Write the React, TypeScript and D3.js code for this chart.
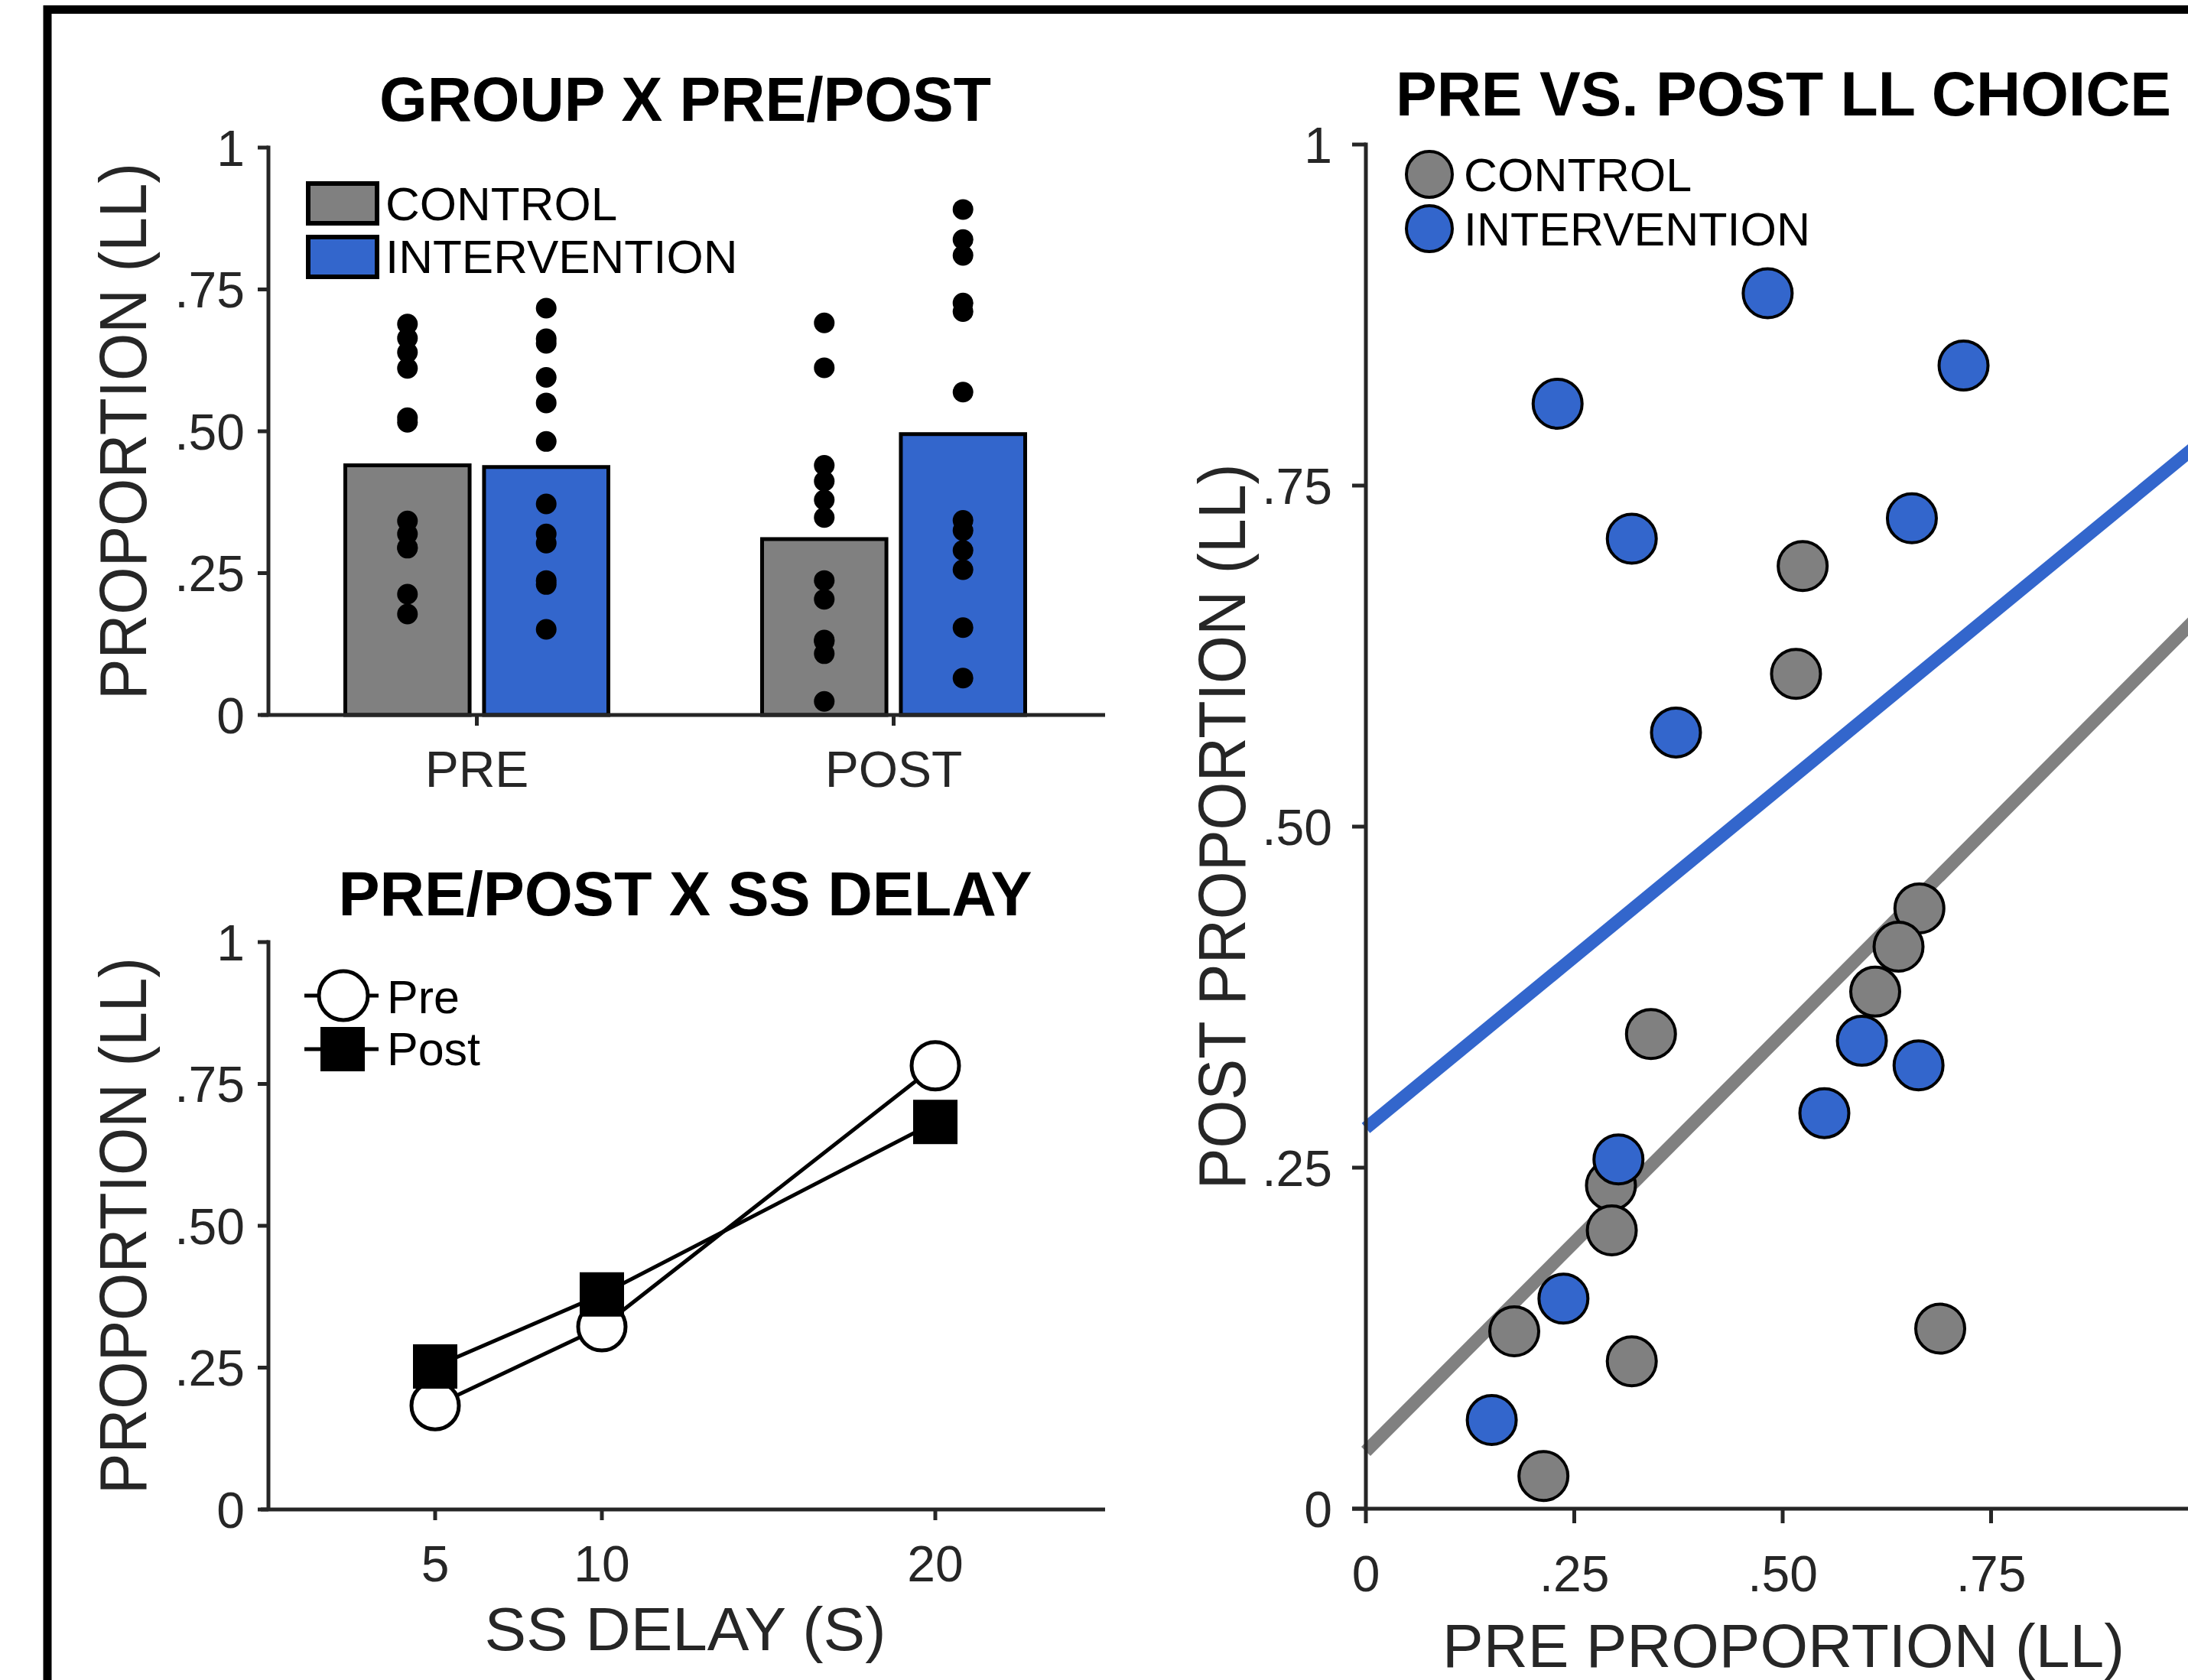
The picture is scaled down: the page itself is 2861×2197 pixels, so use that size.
import React from "react";
import * as d3 from "d3";

const W = 2861;
const H = 2197;
const FONT = "'Liberation Sans', Arial, Helvetica, sans-serif";
const AXIS = "#262626";
const GRAY = "#808080";
const BLUE = "#3366cc";

// panel A: group x pre/post
const phases = ["PRE", "POST"];
const groups = ["CONTROL", "INTERVENTION"];
const controlMeans = [0.44, 0.31]; // PRE, POST
const interventionMeans = [0.437, 0.495];

// per participant (same people in panel A dots and panel C scatter)
const controlPre = [0.524, 0.516, 0.664, 0.639, 0.611, 0.342, 0.294, 0.295, 0.178, 0.319, 0.689, 0.213];
const controlPost = [0.691, 0.612, 0.44, 0.412, 0.379, 0.348, 0.237, 0.204, 0.13, 0.108, 0.132, 0.024];
const interventionPre = [0.482, 0.23, 0.717, 0.319, 0.655, 0.372, 0.595, 0.663, 0.55, 0.303, 0.237, 0.151];
const interventionPost = [0.891, 0.81, 0.838, 0.711, 0.726, 0.569, 0.343, 0.325, 0.29, 0.256, 0.154, 0.065];

// panel B: pre/post x ss delay
const delays = [5, 10, 20];
const preByDelay = [0.183, 0.322, 0.782];
const postByDelay = [0.252, 0.379, 0.683];

// panel C: fitted lines, [pre, post] at both ends
const controlFit: [number, number][] = [[0, 0.042], [1, 0.655]];
const interventionFit: [number, number][] = [[0, 0.279], [1, 0.781]];

const propTicks = [0, 0.25, 0.5, 0.75, 1];
const propTickLabels = ["0", ".25", ".50", ".75", "1"];

// scales
const yA = d3.scaleLinear().domain([0, 1]).range([935, 193]);
const xA = d3.scalePoint().domain(phases).range([351, 1441]).padding(0.5);
const xA1 = d3.scaleBand().domain(groups).range([-172, 172]).paddingInner(0.104);

const yB = d3.scaleLinear().domain([0, 1]).range([1974, 1232]);
const xB = d3.scaleLinear().domain([0, 25]).range([351, 1441]);

const yC = d3.scaleLinear().domain([0, 1]).range([1973, 189]);
const xC = d3.scaleLinear().domain([0, 1]).range([1786, 2876]);

const YAxis = ({ scale, x, tickLen, gap }) => (
  <g>
    <line x1={x} x2={x} y1={scale(1) - 2.5} y2={scale(0)} stroke={AXIS} strokeWidth={5} />
    {propTicks.map((t, i) => (
      <g key={t}>
        <line x1={x - tickLen} x2={x} y1={scale(t)} y2={scale(t)} stroke={AXIS} strokeWidth={5} />
        <text
          x={x - tickLen - gap}
          y={scale(t)}
          dy="0.36em"
          textAnchor="end"
          fontSize={66}
          fill={AXIS}
        >
          {propTickLabels[i]}
        </text>
      </g>
    ))}
  </g>
);

const YLabel = ({ x, y, text, len }) => (
  <text
    transform={`translate(${x},${y}) rotate(-90)`}
    textAnchor="middle"
    fontSize={88}
    fill={AXIS}
    textLength={len}
    lengthAdjust="spacingAndGlyphs"
  >
    {text}
  </text>
);

const Title = ({ x, y, text, len }) => (
  <text
    x={x}
    y={y}
    textAnchor="middle"
    fontSize={81}
    fontWeight="bold"
    fill="#000"
    textLength={len}
    lengthAdjust="spacingAndGlyphs"
  >
    {text}
  </text>
);

const PanelA = () => {
  const means = [controlMeans, interventionMeans];
  const dots = [
    [controlPre, controlPost],
    [interventionPre, interventionPost],
  ];
  const fills = [GRAY, BLUE];
  const bw = xA1.bandwidth();
  return (
    <g>
      <Title x={896} y={158} text="GROUP X PRE/POST" len={800} />
      {phases.map((p, pi) =>
        groups.map((g, gi) => {
          const left = xA(p) + xA1(g);
          return (
            <rect
              key={p + g}
              x={left}
              y={yA(means[gi][pi])}
              width={bw}
              height={yA(0) - yA(means[gi][pi])}
              fill={fills[gi]}
              stroke="#000"
              strokeWidth={5}
            />
          );
        })
      )}
      {phases.map((p, pi) =>
        groups.map((g, gi) =>
          dots[gi][pi].map((v, k) => (
            <circle key={p + g + k} cx={xA(p) + xA1(g) + bw / 2} cy={yA(v)} r={13.5} fill="#000" />
          ))
        )
      )}
      <line x1={341} x2={1445} y1={yA(0)} y2={yA(0)} stroke={AXIS} strokeWidth={5} />
      {phases.map((p) => (
        <g key={p}>
          <line x1={xA(p)} x2={xA(p)} y1={yA(0)} y2={yA(0) + 14} stroke={AXIS} strokeWidth={5} />
          <text x={xA(p)} y={1029} textAnchor="middle" fontSize={66} fill={AXIS}>
            {p}
          </text>
        </g>
      ))}
      <YAxis scale={yA} x={351} tickLen={14} gap={17} />
      <YLabel x={191} y={(yA(0) + yA(1)) / 2} text="PROPORTION (LL)" len={702} />
      {/* legend */}
      {groups.map((g, gi) => (
        <g key={g}>
          <rect x={403} y={240 + gi * 70} width={90} height={52} fill={fills[gi]} stroke="#000" strokeWidth={6} />
          <text x={504} y={288 + gi * 69} fontSize={62} fill="#000">
            {g}
          </text>
        </g>
      ))}
    </g>
  );
};

const PanelB = () => {
  const pts = (vals) => delays.map((d, i) => [xB(d), yB(vals[i])] as [number, number]);
  const line = d3.line();
  const pre = pts(preByDelay);
  const post = pts(postByDelay);
  return (
    <g>
      <Title x={896} y={1197} text="PRE/POST X SS DELAY" len={907} />
      <path d={line(pre)} fill="none" stroke="#000" strokeWidth={5} />
      {pre.map(([x, y], i) => (
        <circle key={i} cx={x} cy={y} r={31} fill="#fff" stroke="#000" strokeWidth={5} />
      ))}
      <path d={line(post)} fill="none" stroke="#000" strokeWidth={5} />
      {post.map(([x, y], i) => (
        <rect key={i} x={x - 29} y={y - 29} width={58} height={58} fill="#000" />
      ))}
      <line x1={341} x2={1445} y1={yB(0)} y2={yB(0)} stroke={AXIS} strokeWidth={5} />
      {delays.map((d) => (
        <g key={d}>
          <line x1={xB(d)} x2={xB(d)} y1={yB(0)} y2={yB(0) + 14} stroke={AXIS} strokeWidth={5} />
          <text x={xB(d)} y={2068} textAnchor="middle" fontSize={66} fill={AXIS}>
            {d}
          </text>
        </g>
      ))}
      <YAxis scale={yB} x={351} tickLen={14} gap={17} />
      <YLabel x={191} y={(yB(0) + yB(1)) / 2} text="PROPORTION (LL)" len={702} />
      <text x={896} y={2158} textAnchor="middle" fontSize={80} fill={AXIS} textLength={525} lengthAdjust="spacingAndGlyphs">
        SS DELAY (S)
      </text>
      {/* legend */}
      <line x1={398} x2={495} y1={1302} y2={1302} stroke="#000" strokeWidth={5} />
      <circle cx={449} cy={1302} r={32} fill="#fff" stroke="#000" strokeWidth={5} />
      <text x={506} y={1325} fontSize={61} fill="#000">
        Pre
      </text>
      <line x1={398} x2={495} y1={1372} y2={1372} stroke="#000" strokeWidth={5} />
      <rect x={419} y={1343} width={58} height={58} fill="#000" />
      <text x={506} y={1393} fontSize={61} fill="#000">
        Post
      </text>
    </g>
  );
};

const PanelC = () => {
  const line = d3
    .line<[number, number]>()
    .x((d) => xC(d[0]))
    .y((d) => yC(d[1]));
  // the right end of the x axis lies past the cropped edge
  const visibleTicks = propTicks.filter((t) => xC(t) < W - 20);
  return (
    <g>
      <Title x={2332} y={151} text="PRE VS. POST LL CHOICE" len={1014} />
      <path d={line(controlFit)} fill="none" stroke={GRAY} strokeWidth={17} />
      <path d={line(interventionFit)} fill="none" stroke={BLUE} strokeWidth={17} />
      {controlPre.map((v, i) => (
        <circle key={"c" + i} cx={xC(v)} cy={yC(controlPost[i])} r={32} fill={GRAY} stroke="#000" strokeWidth={4} />
      ))}
      {interventionPre.map((v, i) => (
        <circle key={"i" + i} cx={xC(v)} cy={yC(interventionPost[i])} r={32} fill={BLUE} stroke="#000" strokeWidth={4} />
      ))}
      <line x1={1768} x2={W} y1={yC(0)} y2={yC(0)} stroke={AXIS} strokeWidth={5} />
      {visibleTicks.map((t) => (
        <g key={t}>
          <line x1={xC(t)} x2={xC(t)} y1={yC(0)} y2={yC(0) + 19} stroke={AXIS} strokeWidth={5} />
          <text x={xC(t)} y={2081} textAnchor="middle" fontSize={66} fill={AXIS}>
            {propTickLabels[propTicks.indexOf(t)]}
          </text>
        </g>
      ))}
      <YAxis scale={yC} x={1786} tickLen={18} gap={26} />
      <YLabel x={1628} y={(yC(0) + yC(1)) / 2} text="POST PROPORTION (LL)" len={949} />
      <text x={2332} y={2180} textAnchor="middle" fontSize={80} fill={AXIS} textLength={892} lengthAdjust="spacingAndGlyphs">
        PRE PROPORTION (LL)
      </text>
      {/* legend */}
      {[GRAY, BLUE].map((c, gi) => (
        <g key={c}>
          <circle cx={1869} cy={228 + gi * 71} r={30} fill={c} stroke="#000" strokeWidth={4} />
          <text x={1914} y={250 + gi * 71} fontSize={61} fill="#000">
            {groups[gi]}
          </text>
        </g>
      ))}
    </g>
  );
};

export default function App() {
  return (
    <svg
      width={W}
      height={H}
      style={{ position: "absolute", left: 0, top: 0, background: "#fff" }}
      fontFamily={FONT}
    >
      <rect x={0} y={0} width={W} height={H} fill="#fff" />
      <rect x={62} y={12.5} width={4000} height={4000} fill="none" stroke="#000" strokeWidth={11} />
      <PanelA />
      <PanelB />
      <PanelC />
    </svg>
  );
}
